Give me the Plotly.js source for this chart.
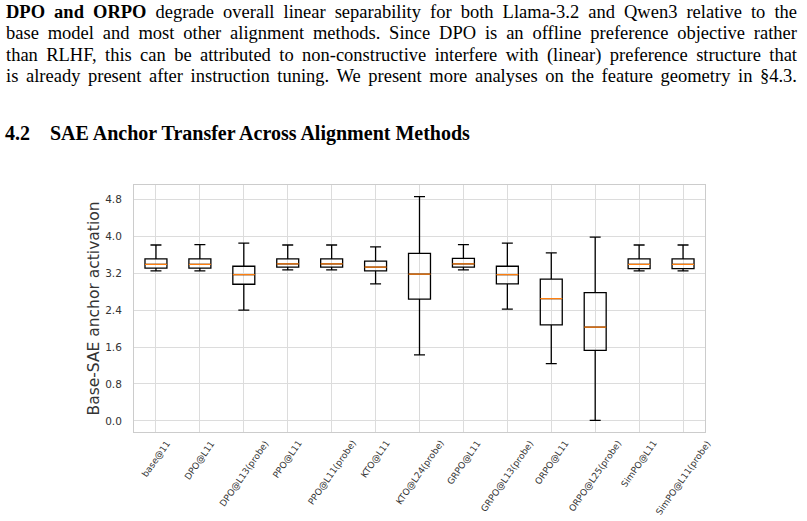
<!DOCTYPE html>
<html>
<head>
<meta charset="utf-8">
<script src="https://cdn.plot.ly/plotly-3.0.1.min.js"></script>
<style>
  html, body { margin: 0; padding: 0; background: #fff; width: 807px; height: 521px; overflow: hidden; }
  #chart { position: absolute; left: 0; top: 0; width: 807px; height: 521px; }
  .para { position: absolute; left: 6px; top: 2px; width: 791px; font-family: "Liberation Serif", "Times New Roman", serif; font-size: 18.5px; line-height: 21.3px; color: #000; }
  .para div { text-align: justify; text-align-last: justify; }
  .head { position: absolute; left: 5px; top: 121px; font-family: "Liberation Serif", "Times New Roman", serif; font-size: 20px; line-height: 24px; font-weight: bold; color: #000; white-space: nowrap; }
</style>
</head>
<body>
<div id="chart"></div>
<div class="para">
  <div><b>DPO and ORPO</b> degrade overall linear separability for both Llama-3.2 and Qwen3 relative to the</div>
  <div>base model and most other alignment methods. Since DPO is an offline preference objective rather</div>
  <div>than RLHF, this can be attributed to non-constructive interfere with (linear) preference structure that</div>
  <div>is already present after instruction tuning. We present more analyses on the feature geometry in §4.3.</div>
</div>
<div class="head">4.2&nbsp;&nbsp;&nbsp;&nbsp;SAE Anchor Transfer Across Alignment Methods</div>
<script>
const categories = ["base@11", "DPO@L11", "DPO@L13(probe)", "PPO@L11", "PPO@L11(probe)", "KTO@L11",
  "KTO@L24(probe)", "GRPO@L11", "GRPO@L13(probe)", "ORPO@L11", "ORPO@L25(probe)", "SimPO@L11", "SimPO@L11(probe)"];
const lowerWhisker = [3.25, 3.25, 2.40, 3.27, 3.27, 2.97, 1.43, 3.27, 2.42, 1.24, 0.01, 3.25, 3.25];
const q1Values     = [3.31, 3.31, 2.96, 3.33, 3.33, 3.25, 2.64, 3.33, 2.97, 2.08, 1.53, 3.30, 3.30];
const medianValues = [3.39, 3.39, 3.17, 3.40, 3.40, 3.33, 3.18, 3.40, 3.17, 2.65, 2.03, 3.39, 3.39];
const q3Values     = [3.51, 3.51, 3.35, 3.51, 3.51, 3.46, 3.63, 3.52, 3.35, 3.07, 2.78, 3.51, 3.51];
const upperWhisker = [3.81, 3.82, 3.85, 3.81, 3.81, 3.77, 4.86, 3.82, 3.85, 3.64, 3.98, 3.81, 3.81];
const yTickValues = [0.0, 0.8, 1.6, 2.4, 3.2, 4.0, 4.8];

const boxTrace = {
  type: 'box',
  x: categories,
  q1: q1Values,
  median: medianValues,
  q3: q3Values,
  lowerfence: lowerWhisker,
  upperfence: upperWhisker,
  boxpoints: false,
  width: 0.5,
  whiskerwidth: 0.5,
  line: { color: '#000000', width: 1.3 },
  fillcolor: 'rgba(0,0,0,0)',
  hoverinfo: 'skip',
  showlegend: false
};
const medianTrace = {
  type: 'box',
  x: categories,
  q1: medianValues,
  median: medianValues,
  q3: medianValues,
  lowerfence: medianValues,
  upperfence: medianValues,
  boxpoints: false,
  width: 0.5,
  whiskerwidth: 0,
  line: { color: '#ff7f0e', width: 1.2 },
  fillcolor: 'rgba(0,0,0,0)',
  hoverinfo: 'skip',
  showlegend: false
};

const annotations = categories.map(c => ({
  x: c, xref: 'x', y: 0, yref: 'paper',
  text: c, showarrow: false, textangle: -55,
  xanchor: 'center', yanchor: 'top', yshift: -4,
  font: { family: 'DejaVu Sans', size: 9, color: '#333333' }
}));

const layout = {
  width: 807, height: 521,
  margin: { l: 134, r: 102, t: 185, b: 89, pad: 0 },
  paper_bgcolor: 'rgba(0,0,0,0)',
  plot_bgcolor: '#ffffff',
  boxmode: 'overlay',
  font: { family: 'DejaVu Sans', color: '#333333' },
  xaxis: {
    type: 'category',
    range: [-0.5, 12.5],
    showticklabels: false,
    showgrid: true, gridcolor: '#dcdcdc', gridwidth: 1,
    showline: true, mirror: true, linecolor: '#cccccc', linewidth: 1,
    ticks: '', zeroline: false, fixedrange: true
  },
  yaxis: {
    range: [-0.24, 5.11],
    tickvals: yTickValues,
    tickformat: '.1f',
    tickfont: { family: 'DejaVu Sans', size: 10.5, color: '#333333' },
    ticklabelstandoff: 9,
    showgrid: true, gridcolor: '#dcdcdc', gridwidth: 1,
    showline: true, mirror: true, linecolor: '#cccccc', linewidth: 1,
    ticks: '', zeroline: false,
    title: { text: 'Base-SAE anchor activation', font: { family: 'DejaVu Sans', size: 15.5, color: '#333333' }, standoff: 1 }
  },
  annotations: annotations
};

Plotly.newPlot('chart', [boxTrace, medianTrace], layout, { staticPlot: true, displayModeBar: false });
</script>
</body>
</html>
